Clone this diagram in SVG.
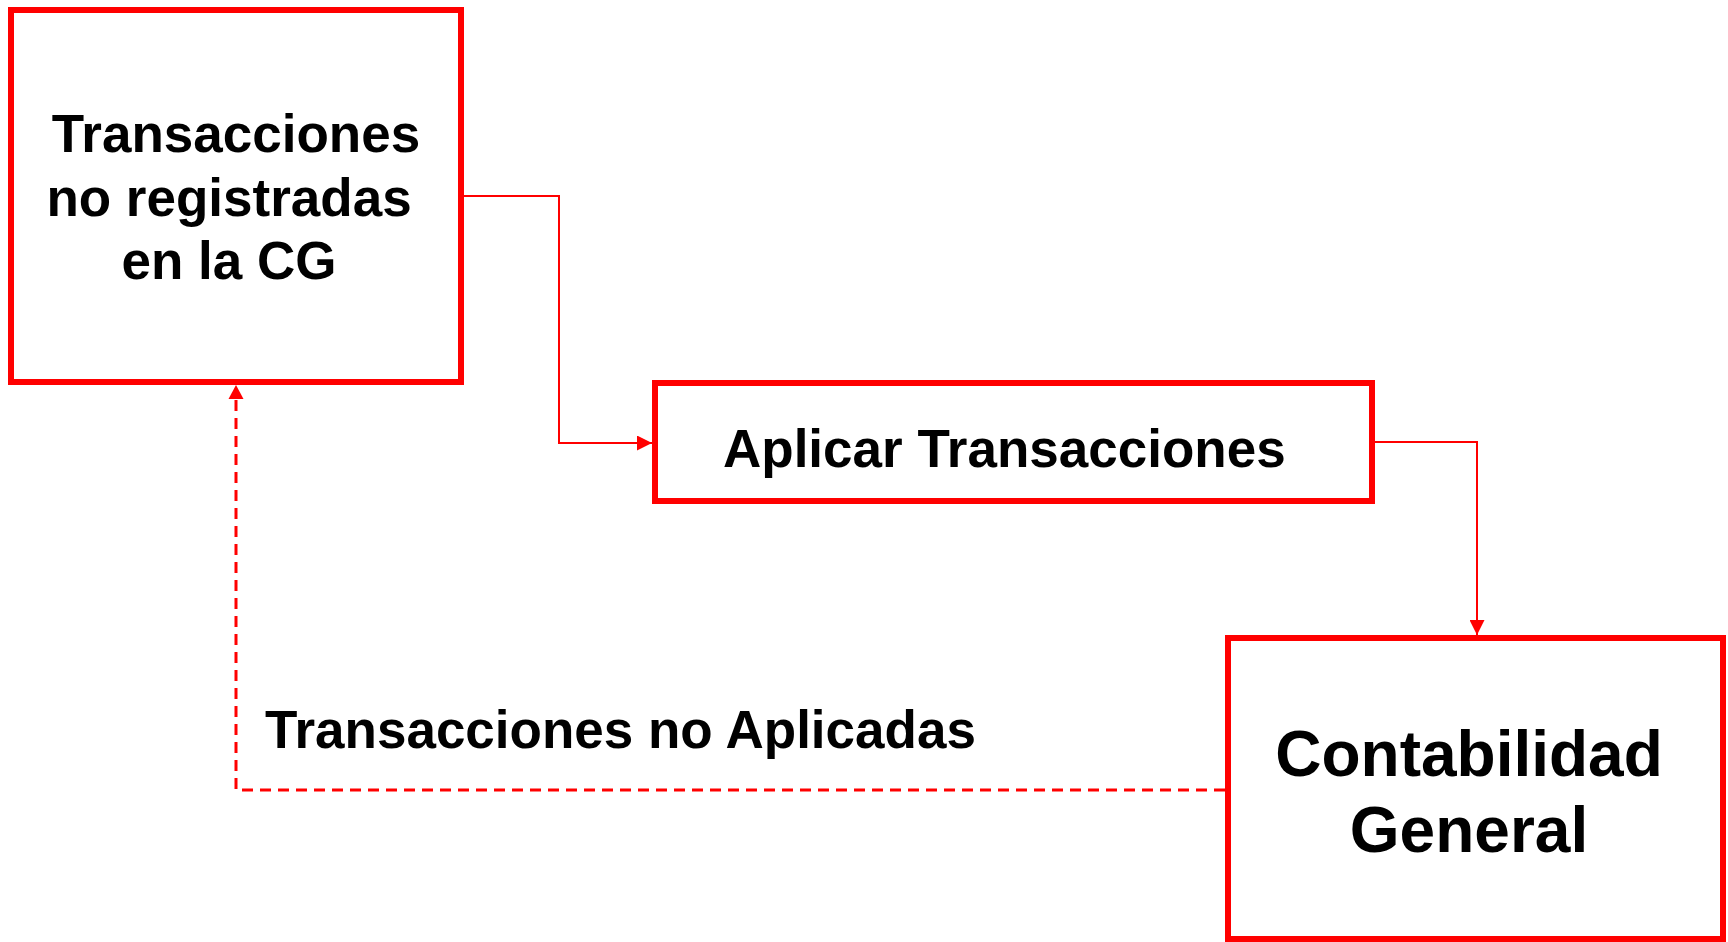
<svg xmlns="http://www.w3.org/2000/svg" width="1728" height="942" viewBox="0 0 1728 942">
<style>
.box{fill:#fff;stroke:#ff0000;stroke-width:6}
.t{font-family:"Liberation Sans",Arial,sans-serif;font-weight:bold;fill:#000}
.c{fill:none;stroke:#ff0000;stroke-width:2}
.d{fill:none;stroke:#ff0000;stroke-width:3;stroke-dasharray:11 7}
</style>
<defs>
<marker id="ah" viewBox="0 0 15 15" refX="15" refY="7.5" markerWidth="15" markerHeight="15" markerUnits="userSpaceOnUse" orient="auto">
<path d="M0,0 L15,7.5 L0,15 z" fill="#ff0000"/>
</marker>
</defs>
<rect width="1728" height="942" fill="#fff"/>
<g id="connectors">
<path class="c" d="M464,196 H559 V443 H652" marker-end="url(#ah)"/>
<path class="c" d="M1375,442 H1477 V635" marker-end="url(#ah)"/>
<path class="d" d="M1225,790 H236 V400"/>
<path d="M228.5,399 L236,385 L243.5,399 z" fill="#ff0000"/>
<text class="t" x="265" y="748" font-size="53">Transacciones no Aplicadas</text>
</g>
<g id="n1">
<rect class="box" x="11" y="10" width="450" height="372"/>
<text class="t" font-size="53" text-anchor="middle"><tspan x="236" y="152">Transacciones</tspan><tspan x="229" y="216">no registradas</tspan><tspan x="229" y="279">en la CG</tspan></text>
</g>
<g id="n2">
<rect class="box" x="655" y="383" width="717" height="118"/>
<text class="t" font-size="53" x="723" y="467">Aplicar Transacciones</text>
</g>
<g id="n3">
<rect class="box" x="1228" y="638" width="495" height="301"/>
<text class="t" font-size="64" text-anchor="middle"><tspan x="1469" y="776">Contabilidad</tspan><tspan x="1469" y="852">General</tspan></text>
</g>
</svg>
